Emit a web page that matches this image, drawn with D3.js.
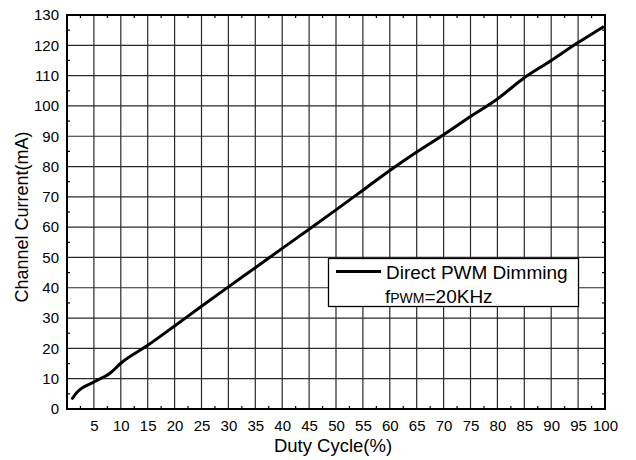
<!DOCTYPE html>
<html>
<head>
<meta charset="utf-8">
<script src="https://cdn.jsdelivr.net/npm/d3@7"></script>
<style>
  html, body { margin: 0; padding: 0; background: #fff; }
  svg { display: block; font-family: "Liberation Sans", Arial, sans-serif; }
</style>
</head>
<body>
<svg id="chart" width="636" height="460"></svg>
<script>
// Channel current vs. PWM duty cycle
const dutyCycle = [1, 1.8, 5, 8, 10, 15, 20, 25, 30, 35, 40, 45, 50, 55, 60, 65, 70, 75, 80, 85, 90, 92, 95, 99.6];
const channelCurrent = [3.5, 5.4, 8.9, 11.8, 15.1, 21, 27.4, 33.9, 40.3, 46.6, 53, 59.3, 65.7, 72.2, 78.7, 84.8, 90.5, 96.5, 102.3, 109.3, 115, 117.4, 120.9, 126];

const xTicks = [5, 10, 15, 20, 25, 30, 35, 40, 45, 50, 55, 60, 65, 70, 75, 80, 85, 90, 95, 100];
const yTicks = [0, 10, 20, 30, 40, 50, 60, 70, 80, 90, 100, 110, 120, 130];
const xMinor = d3.range(2.5, 100, 5);
const yMinor = d3.range(5, 130, 10);

const legendLabel = "Direct PWM Dimming";
const xTitle = "Duty Cycle(%)";
const yTitle = "Channel Current(mA)";

const svg = d3.select("#chart");
const L = 67, R = 605, T = 15, B = 409;

const x = d3.scaleLinear().domain([0, 100]).range([L, R]);
const y = d3.scaleLinear().domain([0, 130]).range([B, T]);

// grid
const grid = svg.append("g").attr("stroke", "#2a2a2a").attr("stroke-width", 1.2);
grid.selectAll("line.v").data(xTicks.filter(d => d < 100)).join("line")
  .attr("x1", d => x(d)).attr("x2", d => x(d)).attr("y1", T).attr("y2", B);
grid.selectAll("line.h").data(yTicks.filter(d => d > 0 && d < 130)).join("line")
  .attr("x1", L).attr("x2", R).attr("y1", d => y(d)).attr("y2", d => y(d));

// minor ticks (inward on all four sides)
const mt = svg.append("g").attr("stroke", "#000").attr("stroke-width", 1.2);
xMinor.forEach(d => {
  mt.append("line").attr("x1", x(d)).attr("x2", x(d)).attr("y1", B).attr("y2", B - 3);
  mt.append("line").attr("x1", x(d)).attr("x2", x(d)).attr("y1", T).attr("y2", T + 3);
});
yMinor.forEach(d => {
  mt.append("line").attr("x1", L).attr("x2", L + 3).attr("y1", y(d)).attr("y2", y(d));
  mt.append("line").attr("x1", R).attr("x2", R - 3).attr("y1", y(d)).attr("y2", y(d));
});

// frame
svg.append("rect").attr("x", L).attr("y", T).attr("width", R - L).attr("height", B - T)
  .attr("fill", "none").attr("stroke", "#000").attr("stroke-width", 2);

// axes labels
const xAxis = d3.axisBottom(x).tickValues(xTicks).tickSize(0).tickPadding(11);
const gx = svg.append("g").attr("transform", `translate(0,${B})`).call(xAxis);
gx.select(".domain").remove();
gx.selectAll("text").attr("font-size", 15).attr("fill", "#000").attr("font-family", "Liberation Sans, Arial, sans-serif");

const yAxis = d3.axisLeft(y).tickValues(yTicks).tickSize(0).tickPadding(8);
const gy = svg.append("g").attr("transform", `translate(${L},0)`).call(yAxis);
gy.select(".domain").remove();
gy.selectAll("text").attr("font-size", 15).attr("fill", "#000").attr("font-family", "Liberation Sans, Arial, sans-serif");

// axis titles
svg.append("text").attr("x", 333).attr("y", 452).attr("text-anchor", "middle")
  .attr("font-size", 18.5).attr("fill", "#000").text(xTitle);
svg.append("text").attr("transform", `translate(28,217) rotate(-90)`)
  .attr("text-anchor", "middle").attr("font-size", 18).attr("fill", "#000").text(yTitle);

// data curve
const line = d3.line().x((d, i) => x(dutyCycle[i])).y(d => y(d)).curve(d3.curveMonotoneX);
svg.append("path").datum(channelCurrent).attr("d", line)
  .attr("fill", "none").attr("stroke", "#000").attr("stroke-width", 3)
  .attr("stroke-linecap", "round").attr("stroke-linejoin", "round");

// legend
const lg = svg.append("g");
lg.append("rect").attr("x", 328.5).attr("y", 258.5).attr("width", 250).attr("height", 48)
  .attr("fill", "#fff").attr("stroke", "#000").attr("stroke-width", 1.3);
lg.append("line").attr("x1", 336).attr("x2", 381).attr("y1", 271.5).attr("y2", 271.5)
  .attr("stroke", "#000").attr("stroke-width", 3);
lg.append("text").attr("x", 386).attr("y", 278.5).attr("font-size", 19).attr("fill", "#000").text(legendLabel);
const t2 = lg.append("text").attr("x", 385).attr("y", 302.5).attr("font-size", 19).attr("fill", "#000");
t2.append("tspan").text("f");
t2.append("tspan").attr("font-size", 14).text("PWM");
t2.append("tspan").text("=20KHz");
</script>
</body>
</html>
